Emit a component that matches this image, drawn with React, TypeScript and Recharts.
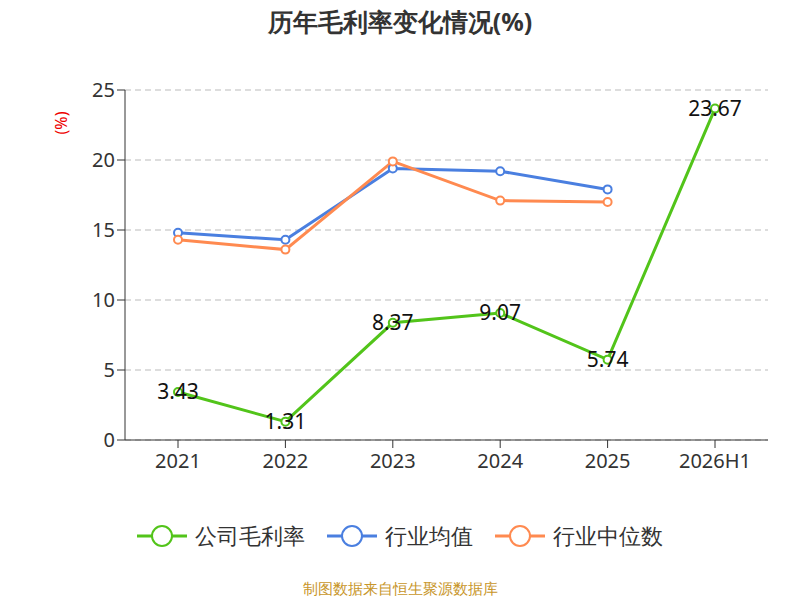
import React from "react";
import { LineChart, Line, XAxis, YAxis, CartesianGrid, LabelList } from "recharts";

const categories = ["2021", "2022", "2023", "2024", "2025", "2026H1"];
const company = [3.43, 1.31, 8.37, 9.07, 5.74, 23.67];
const industryAvg = [14.8, 14.3, 19.4, 19.2, 17.9, null];
const industryMedian = [14.3, 13.6, 19.9, 17.1, 17.0, null];
const yTicks = [0, 5, 10, 15, 20, 25];
const legendItems = [
  { name: "公司毛利率", color: "#52c41a" },
  { name: "行业均值", color: "#4a7fe0" },
  { name: "行业中位数", color: "#ff8a50" },
];

const data = categories.map((c, i) => ({
  name: c,
  company: company[i],
  avg: industryAvg[i],
  median: industryMedian[i],
}));

const font = "'Noto Sans', sans-serif";

export default function App() {
  return (
    <div style={{ position: "absolute", left: 0, top: 0, width: 800, height: 600, fontFamily: font, background: "#fff" }}>
      <div style={{ position: "absolute", top: 4, width: 800, textAlign: "center", fontSize: 25, fontWeight: "bold", color: "#333" }}>
        历年毛利率变化情况(%)
      </div>
      <div style={{ position: "absolute", left: 50, top: 112, color: "#e00", fontSize: 16, transform: "rotate(-90deg)", transformOrigin: "center" }}>(%)</div>
      <LineChart width={800} height={600} data={data} margin={{ top: 90, right: 32, left: 65, bottom: 100 }} style={{ fontFamily: font }}>
        <CartesianGrid vertical={false} stroke="#bbb" strokeDasharray="6 4" />
        <XAxis dataKey="name" padding={{ left: 53, right: 53 }} tick={{ fill: "#333", fontSize: 20 }} tickLine={{ stroke: "#333" }} axisLine={{ stroke: "#333" }} tickMargin={6} tickSize={8} height={60} interval={0} />
        <YAxis domain={[0, 25]} ticks={yTicks} tick={{ fill: "#333", fontSize: 20 }} tickLine={{ stroke: "#333" }} axisLine={{ stroke: "#333" }} width={60} tickSize={8} />
        <Line name="公司毛利率" dataKey="company" stroke="#52c41a" strokeWidth={3} dot={{ r: 4, fill: "#fff", strokeWidth: 2 }} isAnimationActive={false}>
          <LabelList dataKey="company" position="center" style={{ fill: "#111", fontSize: 21 }} />
        </Line>
        <Line name="行业均值" dataKey="avg" stroke="#4a7fe0" strokeWidth={3} dot={{ r: 4, fill: "#fff", strokeWidth: 2 }} isAnimationActive={false} />
        <Line name="行业中位数" dataKey="median" stroke="#ff8a50" strokeWidth={3} dot={{ r: 4, fill: "#fff", strokeWidth: 2 }} isAnimationActive={false} />
      </LineChart>
      <div style={{ position: "absolute", top: 520, width: 800, display: "flex", justifyContent: "center", gap: 22, fontSize: 22, color: "#333" }}>
        {legendItems.map((it) => (
          <div key={it.name} style={{ display: "flex", alignItems: "center", gap: 8 }}>
            <svg width={50} height={30}>
              <line x1={0} y1={15} x2={50} y2={15} stroke={it.color} strokeWidth={3} />
              <circle cx={25} cy={15} r={10} fill="#fff" stroke={it.color} strokeWidth={2} />
            </svg>
            <span>{it.name}</span>
          </div>
        ))}
      </div>
      <div style={{ position: "absolute", top: 578, width: 800, textAlign: "center", fontSize: 15, color: "#c8962a" }}>
        制图数据来自恒生聚源数据库
      </div>
    </div>
  );
}
